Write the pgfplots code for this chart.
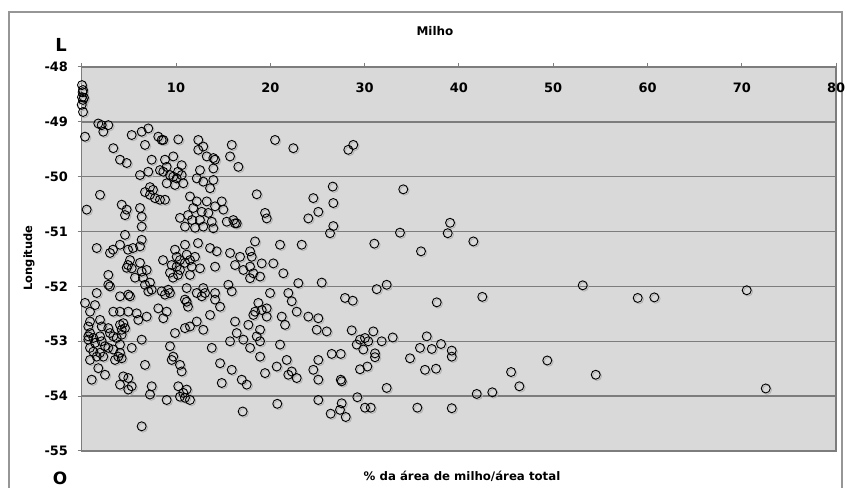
\documentclass[border=0pt]{standalone}
\usepackage{fontspec}
\setmainfont{DejaVu Sans}
\usepackage{pgfplots}
\pgfplotsset{compat=1.18}
\usepackage{pgfplotstable}
\definecolor{plotbg}{RGB}{217,217,217}
\definecolor{gridc}{RGB}{125,125,125}
\definecolor{framec}{RGB}{150,150,150}
\pgfplotstableread{
x y
0.03 -48.33
0.14 -48.42
0.03 -48.55
0.14 -48.60
0.00 -48.69
0.14 -48.82
0.10 -48.46
0.24 -48.56
1.76 -49.03
2.12 -49.06
2.29 -49.18
2.82 -49.06
0.35 -49.27
5.30 -49.24
6.36 -49.18
6.71 -49.42
7.06 -49.12
8.12 -49.27
8.48 -49.33
8.65 -49.33
10.24 -49.32
12.36 -49.33
3.35 -49.48
4.06 -49.69
4.77 -49.75
7.42 -49.69
6.18 -49.97
7.06 -49.91
8.83 -49.69
9.71 -49.63
9.01 -49.82
8.65 -49.91
9.36 -49.97
9.71 -50.00
10.07 -50.03
10.60 -49.97
10.77 -50.12
9.01 -50.12
10.60 -49.79
8.30 -49.88
9.89 -50.15
10.21 -49.91
7.24 -50.19
7.56 -50.24
7.24 -50.33
7.77 -50.39
8.30 -50.42
8.83 -50.42
6.71 -50.28
1.94 -50.33
0.53 -50.60
4.24 -50.51
4.77 -50.60
4.59 -50.70
6.18 -50.57
6.36 -50.73
6.36 -50.91
10.42 -50.75
11.27 -50.70
11.70 -50.79
10.95 -50.91
12.02 -50.93
4.59 -51.06
4.06 -51.24
6.36 -51.15
6.18 -51.27
5.44 -51.30
4.91 -51.33
3.32 -51.33
1.59 -51.30
3.00 -51.39
9.89 -51.33
10.07 -51.46
10.42 -51.52
11.13 -51.42
10.95 -51.24
11.48 -51.52
12.33 -51.21
5.12 -51.52
8.62 -51.52
4.77 -51.66
4.91 -51.61
5.30 -51.67
6.18 -51.57
6.36 -51.73
6.89 -51.70
5.65 -51.84
6.50 -51.84
6.71 -51.97
7.24 -51.93
7.42 -52.06
7.06 -52.09
9.54 -51.61
10.07 -51.64
10.42 -51.70
10.95 -51.57
11.66 -51.64
11.48 -51.79
9.68 -51.84
10.21 -51.79
9.36 -51.75
2.82 -51.79
2.82 -51.97
3.00 -52.00
1.59 -52.12
4.06 -52.18
4.94 -52.15
5.12 -52.18
8.48 -52.09
9.18 -52.06
9.36 -52.12
8.83 -52.15
11.13 -52.03
10.95 -52.24
11.13 -52.28
11.27 -52.37
12.20 -52.12
0.35 -52.30
1.41 -52.34
0.88 -52.46
3.35 -52.46
4.06 -52.46
4.94 -52.46
5.83 -52.49
6.89 -52.55
6.00 -52.61
8.12 -52.40
9.01 -52.46
8.65 -52.58
0.88 -52.64
0.70 -52.73
1.94 -52.61
2.12 -52.73
0.88 -52.85
0.70 -52.91
1.23 -52.94
1.94 -52.91
2.82 -52.76
3.00 -52.85
3.35 -52.91
4.06 -52.70
4.41 -52.67
4.59 -52.76
4.24 -52.79
4.24 -52.88
3.71 -52.94
9.89 -52.85
10.95 -52.76
12.20 -52.64
0.70 -52.97
1.41 -53.03
2.12 -53.00
2.47 -53.09
0.88 -53.12
1.23 -53.19
1.94 -53.21
1.59 -53.28
0.88 -53.34
2.29 -53.28
2.82 -53.12
3.35 -53.15
4.06 -53.06
4.06 -53.21
3.88 -53.28
3.53 -53.34
4.24 -53.31
5.30 -53.12
6.36 -52.97
9.36 -53.09
9.71 -53.28
9.54 -53.34
10.42 -53.43
10.60 -53.55
6.71 -53.43
1.76 -53.49
2.47 -53.61
1.06 -53.70
4.41 -53.64
4.94 -53.67
4.06 -53.79
5.30 -53.82
4.94 -53.88
7.42 -53.82
7.24 -53.97
9.01 -54.07
10.24 -53.82
11.13 -53.88
10.42 -54.01
10.95 -54.03
11.48 -54.07
10.77 -53.94
6.36 -54.55
12.89 -49.45
12.36 -49.51
13.26 -49.63
13.96 -49.66
14.14 -49.69
13.96 -49.85
15.91 -49.42
15.73 -49.63
16.61 -49.82
20.50 -49.33
22.44 -49.48
12.54 -49.88
12.20 -50.03
12.89 -50.09
13.96 -50.06
13.61 -50.21
18.56 -50.32
24.56 -50.39
25.09 -50.64
24.03 -50.76
11.48 -50.36
12.20 -50.45
11.83 -50.57
13.26 -50.45
14.14 -50.54
14.85 -50.45
15.02 -50.60
12.73 -50.64
13.43 -50.66
12.54 -50.79
13.79 -50.82
13.96 -50.94
12.89 -50.91
15.38 -50.82
16.08 -50.79
16.26 -50.85
16.44 -50.85
19.44 -50.66
19.62 -50.76
18.38 -51.18
21.03 -51.24
23.33 -51.24
13.61 -51.30
14.32 -51.36
15.73 -51.39
16.79 -51.46
17.85 -51.36
18.03 -51.46
12.01 -51.46
12.54 -51.67
14.14 -51.64
16.26 -51.61
17.14 -51.70
17.85 -51.64
18.20 -51.76
18.91 -51.82
17.85 -51.85
19.09 -51.58
20.32 -51.58
21.38 -51.76
22.97 -51.94
12.89 -52.03
13.08 -52.12
12.73 -52.18
14.14 -52.12
14.14 -52.24
14.67 -52.37
15.55 -51.97
15.91 -52.09
19.97 -52.12
21.91 -52.12
22.27 -52.27
22.80 -52.46
24.03 -52.55
25.09 -52.58
24.92 -52.79
13.61 -52.52
12.89 -52.79
11.48 -52.73
18.73 -52.30
18.38 -52.46
19.09 -52.43
19.62 -52.40
18.20 -52.52
19.62 -52.55
21.21 -52.55
21.56 -52.70
17.67 -52.70
16.26 -52.64
16.44 -52.85
18.91 -52.79
18.56 -52.91
18.91 -53.00
17.14 -52.97
15.73 -53.00
13.79 -53.12
17.85 -53.12
18.91 -53.28
21.03 -53.06
14.67 -53.40
15.91 -53.52
14.85 -53.76
16.97 -53.70
17.50 -53.79
19.44 -53.58
20.68 -53.46
21.74 -53.34
22.27 -53.55
21.91 -53.61
22.80 -53.67
24.56 -53.52
25.09 -53.70
25.09 -53.34
17.07 -54.28
20.74 -54.14
25.09 -54.07
28.27 -49.51
28.80 -49.42
26.62 -50.18
26.68 -50.48
26.68 -50.90
26.33 -51.03
34.10 -50.23
33.75 -51.02
31.03 -51.22
35.98 -51.36
39.06 -50.84
38.81 -51.03
41.53 -51.18
25.45 -51.93
31.28 -52.05
32.34 -51.97
27.92 -52.21
28.74 -52.26
37.65 -52.29
42.48 -52.19
25.98 -52.82
28.63 -52.80
30.92 -52.82
30.04 -52.94
29.51 -52.97
29.16 -53.06
30.39 -53.00
29.86 -53.15
31.81 -53.00
32.98 -52.93
31.10 -53.22
31.10 -53.29
26.51 -53.23
27.47 -53.23
27.47 -53.70
27.57 -53.73
29.51 -53.51
30.29 -53.46
32.34 -53.85
29.23 -54.02
30.04 -54.21
30.65 -54.21
27.57 -54.13
27.39 -54.25
26.40 -54.32
28.00 -54.38
36.59 -52.91
35.87 -53.12
37.12 -53.14
38.10 -53.05
34.81 -53.31
36.40 -53.52
37.57 -53.50
39.24 -53.17
39.24 -53.28
35.59 -54.21
39.24 -54.22
41.89 -53.96
53.13 -51.98
58.96 -52.21
60.72 -52.20
70.52 -52.07
49.37 -53.35
45.53 -53.56
46.41 -53.82
43.54 -53.93
54.51 -53.61
72.54 -53.86
}\milho
\begin{document}
\begin{tikzpicture}[x=1bp,y=1bp]
\path[use as bounding box] (0,0) rectangle (847,488);
\clip (0,0) rectangle (847,488);
\draw[framec, line width=1.2bp] (9,-10) rectangle (842,476);
\begin{axis}[
  at={(81.7bp,37bp)}, anchor=south west, scale only axis,
  width=754.4bp, height=384bp,
  xmin=0, xmax=80, ymin=-55, ymax=-48,
  axis background/.style={fill=plotbg},
  xtick={0,10,...,80}, xticklabels={,10,20,30,40,50,60,70,80},
  xtick pos=right, xticklabel pos=right,
  xticklabel style={anchor=center, yshift=-25bp},
  ytick={-55,-54,-53,-52,-51,-50,-49,-48},
  yticklabels={-55,-54,-53,-52,-51,-50,-49,-48},
  ytick pos=left,
  yticklabel style={anchor=east, inner sep=0pt, xshift=-9.5bp},
  ticklabel style={font=\fontsize{13}{15}\selectfont\bfseries},
  tick align=outside, major tick length=4bp,
  tick style={gridc, line width=1bp},
  ymajorgrids, major grid style={gridc, line width=1.5bp},
  axis line style={gridc, line width=1.5bp},
]
\addplot[only marks, mark=o, mark size=4.5bp, gray!60, mark options={xshift=1.3bp, yshift=-1.3bp, line width=0.9bp}] table {\milho};
\addplot[only marks, mark=o, mark size=4.5bp, black, mark options={line width=0.9bp}] table {\milho};
\end{axis}
\node[font=\fontsize{12}{14}\selectfont\bfseries] at (435,457) {Milho};
\node[font=\fontsize{18}{20}\selectfont\bfseries] at (61,443) {L};
\node[font=\fontsize{17}{20}\selectfont\bfseries] at (60,10) {O};
\node[font=\fontsize{11.8}{14}\selectfont\bfseries] at (462,11.3) {\% da área de milho/área total};
\node[rotate=90, font=\fontsize{11.5}{14}\selectfont\bfseries] at (29,230) {Longitude};
\end{tikzpicture}
\end{document}
